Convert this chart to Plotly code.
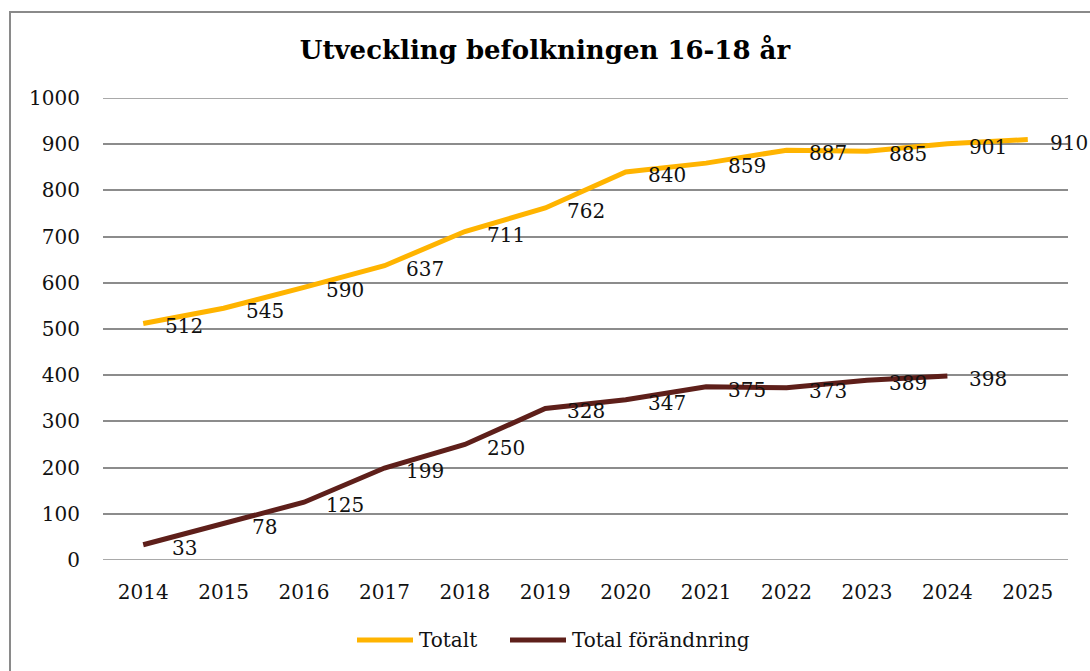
import plotly.graph_objects as go

years = ["2014", "2015", "2016", "2017", "2018", "2019", "2020", "2021", "2022", "2023", "2024", "2025"]
totalt = [512, 545, 590, 637, 711, 762, 840, 859, 887, 885, 901, 910]
forandring = [33, 78, 125, 199, 250, 328, 347, 375, 373, 389, 398]
y_ticks = [0, 100, 200, 300, 400, 500, 600, 700, 800, 900, 1000]
series_names = ["Totalt", "Total förändnring"]

SERIF = "DejaVu Serif"
YELLOW = "#FFB400"
BROWN = "#5E1F1A"
TXT = "#111111"
GRID = "#8c8c8c"

fig = go.Figure()
fig.add_trace(go.Scatter(x=years, y=totalt, mode="lines", name=series_names[0],
                         line=dict(color=YELLOW, width=5), showlegend=False))
fig.add_trace(go.Scatter(x=years[:len(forandring)], y=forandring, mode="lines",
                         name=series_names[1], line=dict(color=BROWN, width=5), showlegend=False))

annotations = []
for ys in (totalt, forandring):
    for i, yv in enumerate(ys):
        annotations.append(dict(x=i, y=yv, xref="x", yref="y", text=str(yv),
                                showarrow=False, xanchor="center", yanchor="middle",
                                xshift=41, yshift=-3,
                                font=dict(family=SERIF, size=20, color=TXT)))

# plot area: x 103..1068 px, y 98..560 px
W, H = 1090, 671
L, R, T, B = 103, 22, 98, 111
pw, ph = W - L - R, H - T - B

def px_x(p):
    return (p - L) / pw

def px_y(p):
    return (H - B - p) / ph

shapes = [dict(type="rect", xref="paper", yref="paper",
               x0=px_x(10), x1=px_x(1100), y0=px_y(690), y1=px_y(12),
               line=dict(color="#8a8a8a", width=2), fillcolor="rgba(0,0,0,0)", layer="below")]

# gridlines at the ends of the value axis (plotly clips those at the range edges)
for yv in (y_ticks[0], y_ticks[-1]):
    shapes.append(dict(type="line", xref="paper", yref="y", x0=0, x1=1, y0=yv, y1=yv,
                       line=dict(color=GRID, width=1.5), layer="below"))

# custom legend
legend_y = px_y(640)
for (x0, x1, tx), color, name in zip([(357, 413, 417), (510, 566, 570)], [YELLOW, BROWN], series_names):
    shapes.append(dict(type="line", xref="paper", yref="paper", x0=px_x(x0), x1=px_x(x1),
                       y0=legend_y, y1=legend_y, line=dict(color=color, width=5)))
    annotations.append(dict(x=px_x(tx), y=legend_y, xref="paper", yref="paper", text=name,
                            showarrow=False, xanchor="left", yanchor="middle",
                            font=dict(family=SERIF, size=20, color=TXT)))

fig.update_layout(
    width=W, height=H,
    margin=dict(l=L, r=R, t=T, b=B),
    paper_bgcolor="white", plot_bgcolor="white",
    title=dict(text="<b>Utveckling befolkningen 16-18 år</b>", x=0.5, xref="container",
               xanchor="center", y=1 - 50 / H, yref="container", yanchor="middle",
               font=dict(family=SERIF, size=26, color="#000000")),
    xaxis=dict(type="category", showgrid=False, showline=False, zeroline=False, ticks="",
               tickfont=dict(family=SERIF, size=20, color=TXT), ticklabelstandoff=18,
               range=[-0.5, 11.5]),
    yaxis=dict(range=[0, 1000], tickvals=y_ticks, showgrid=True, gridcolor=GRID,
               gridwidth=1.5, zeroline=False, showline=False, ticks="",
               tickfont=dict(family=SERIF, size=20, color=TXT), ticklabelstandoff=22),
    showlegend=False,
    annotations=annotations,
    shapes=shapes,
)

fig.write_html("out.html", config={"displayModeBar": False},
               post_script="document.body.style.margin='0';")
